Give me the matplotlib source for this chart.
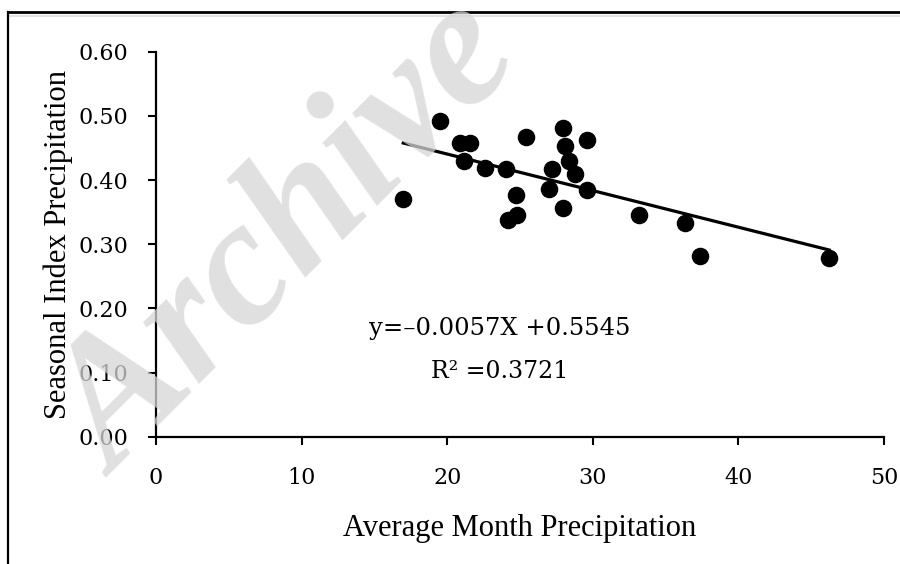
import matplotlib
matplotlib.use("Agg")
import matplotlib.pyplot as plt
from matplotlib.lines import Line2D

# average month precipitation vs seasonal index
avg_precip = [16.98, 19.53, 20.88, 21.57, 21.15, 22.60, 24.02, 24.73, 24.18, 24.81,
              25.41, 27.18, 26.97, 27.97, 28.09, 28.39, 28.80, 27.97, 29.62, 29.62,
              33.19, 36.35, 37.36, 46.24]
seasonal_idx = [0.370, 0.492, 0.458, 0.458, 0.429, 0.418, 0.417, 0.376, 0.337, 0.345,
                0.467, 0.417, 0.386, 0.481, 0.453, 0.429, 0.409, 0.356, 0.463, 0.384,
                0.346, 0.333, 0.281, 0.279]
slope, intercept, r2 = -0.0057, 0.5545, 0.3721
x_ticks = [0, 10, 20, 30, 40, 50]
y_ticks = [0.0, 0.1, 0.2, 0.3, 0.4, 0.5, 0.6]

TICKF = "DejaVu Serif"
TITLEF = "Liberation Serif"

fig = plt.figure(figsize=(9, 5.64), dpi=100)
ax = fig.add_axes([156 / 900, 1 - 436.7 / 564, (884 - 156) / 900, (436.7 - 51.7) / 564])

ax.scatter(avg_precip, seasonal_idx, s=135, color="black", zorder=3, clip_on=False)
x0, x1 = min(avg_precip), max(avg_precip)
ax.plot([x0, x1], [slope * x0 + intercept, slope * x1 + intercept],
        color="black", lw=2.3, zorder=2)

ax.set_xlim(0, 50)
ax.set_ylim(0, 0.6)
ax.set_xticks(x_ticks)
ax.set_yticks(y_ticks)
ax.set_xticklabels([str(v) for v in x_ticks], fontsize=16, family=TICKF)
ax.set_yticklabels(["%.2f" % v for v in y_ticks], fontsize=16, family=TICKF)
ax.tick_params(direction="out", length=6, width=1.5, color="black")
ax.tick_params(axis="x", pad=16)
ax.tick_params(axis="y", pad=14)
for s in ("top", "right"):
    ax.spines[s].set_visible(False)
for s in ("left", "bottom"):
    ax.spines[s].set_linewidth(1.6)

ax.set_xlabel("Average Month Precipitation", fontsize=22, family=TITLEF, labelpad=18)
ax.set_ylabel("Seasonal Index Precipitation", fontsize=22, family=TITLEF, labelpad=4)

ax.text(23.6, 0.168, "y=\u2013%.4fX +%.4f" % (-slope, intercept), ha="center", va="center",
        fontsize=17.5, family=TICKF)
ax.text(23.6, 0.102, "R\u00b2 =%.4f" % r2, ha="center", va="center",
        fontsize=17, family=TICKF)

# frame lines of the cropped page
fig.add_artist(Line2D([8 / 900, 1], [1 - 12 / 564] * 2, color="black", lw=2))
fig.add_artist(Line2D([8 / 900, 1], [1 - 15.5 / 564] * 2, color="#e2e2e2", lw=1.5))
fig.add_artist(Line2D([8 / 900] * 2, [0, 1 - 12 / 564], color="black", lw=1.6))

# watermark
fig.text(115 / 900, 1 - 478 / 564, "Archive", fontsize=130, family="Liberation Serif",
         style="italic", weight="bold", color="#d6d6d6", alpha=0.75, rotation=45,
         rotation_mode="anchor", ha="left", va="baseline", zorder=10)

fig.savefig("out.png", dpi=100)
